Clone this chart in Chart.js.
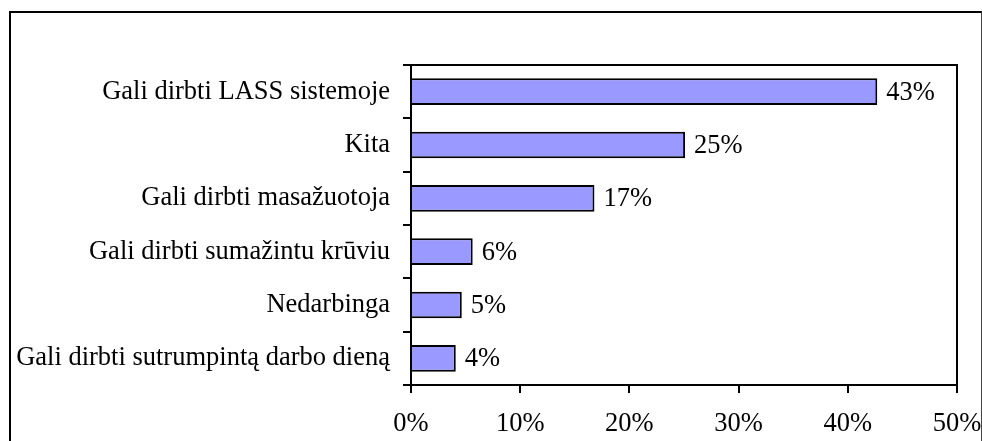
<!DOCTYPE html>
<html>
<head>
<meta charset="utf-8">
<script src="https://cdn.jsdelivr.net/npm/chart.js@4"></script>
<style>
html,body{margin:0;padding:0;background:#fff;overflow:hidden;}
#wrap{position:relative;width:982px;height:441px;}
#frame{position:absolute;left:9px;top:11px;width:973px;height:500px;border:2px solid #000;border-right:1px solid #444;box-sizing:border-box;pointer-events:none;}
canvas{position:absolute;left:0;top:0;}
</style>
</head>
<body>
<div id="wrap">
<canvas id="c" width="982" height="441"></canvas>
<div id="frame"></div>
</div>
<script>
const categories = [
  "Gali dirbti LASS sistemoje",
  "Kita",
  "Gali dirbti masažuotoja",
  "Gali dirbti sumažintu krūviu",
  "Nedarbinga",
  "Gali dirbti sutrumpintą darbo dieną"
];
const values = [42.7, 25.1, 16.8, 5.65, 4.65, 4.1];
const valueLabels = ["43%", "25%", "17%", "6%", "5%", "4%"];
const xTicks = [0, 10, 20, 30, 40, 50];

const FONT = {family: '"Liberation Serif", "Times New Roman", serif', size: 26.5};

const plotBorder = {
  id: 'plotBorder',
  afterDraw(chart) {
    const {ctx, chartArea: a} = chart;
    ctx.save();
    ctx.strokeStyle = '#000';
    ctx.lineWidth = 2;
    ctx.beginPath();
    ctx.moveTo(a.left, a.top);
    ctx.lineTo(a.right, a.top);
    ctx.lineTo(a.right, a.bottom);
    ctx.stroke();
    ctx.restore();
  }
};

const barLabels = {
  id: 'barLabels',
  afterDatasetsDraw(chart) {
    const {ctx} = chart;
    const meta = chart.getDatasetMeta(0);
    ctx.save();
    ctx.font = FONT.size + 'px ' + FONT.family;
    ctx.fillStyle = '#000';
    ctx.textAlign = 'left';
    ctx.textBaseline = 'middle';
    meta.data.forEach((bar, i) => {
      ctx.fillText(valueLabels[i], bar.x + 9, bar.y + 1);
    });
    ctx.restore();
  }
};

new Chart(document.getElementById('c'), {
  type: 'bar',
  data: {
    labels: categories,
    datasets: [{
      data: values,
      backgroundColor: '#9999FF',
      borderColor: '#000',
      borderWidth: 2,
      categoryPercentage: 1,
      barPercentage: 0.5
    }]
  },
  options: {
    indexAxis: 'y',
    responsive: false,
    animation: false,
    devicePixelRatio: 1,
    layout: {padding: {top: 65, right: 25, left: 0, bottom: 0}},
    plugins: {legend: {display: false}, tooltip: {enabled: false}},
    scales: {
      x: {
        min: 0, max: 50,
        afterFit(s) { s.height = 56; s.paddingRight = 0; s.paddingLeft = 0; },
        afterBuildTicks(s) { s.ticks = xTicks.map(v => ({value: v})); },
        ticks: {
          callback: v => v + '%',
          font: FONT, color: '#000', padding: 15,
          maxRotation: 0, autoSkip: false
        },
        grid: {drawOnChartArea: false, drawTicks: true, tickLength: 8, color: '#000', lineWidth: 2},
        border: {display: true, color: '#000', width: 2}
      },
      y: {
        afterFit(s) { s.width = 411; s.paddingTop = 0; s.paddingBottom = 0; },
        ticks: {font: FONT, color: '#000', padding: 13, autoSkip: false},
        grid: {drawOnChartArea: false, drawTicks: true, tickLength: 8, color: '#000', lineWidth: 2, offset: true},
        border: {display: true, color: '#000', width: 2}
      }
    }
  },
  plugins: [plotBorder, barLabels]
});
</script>
</body>
</html>
